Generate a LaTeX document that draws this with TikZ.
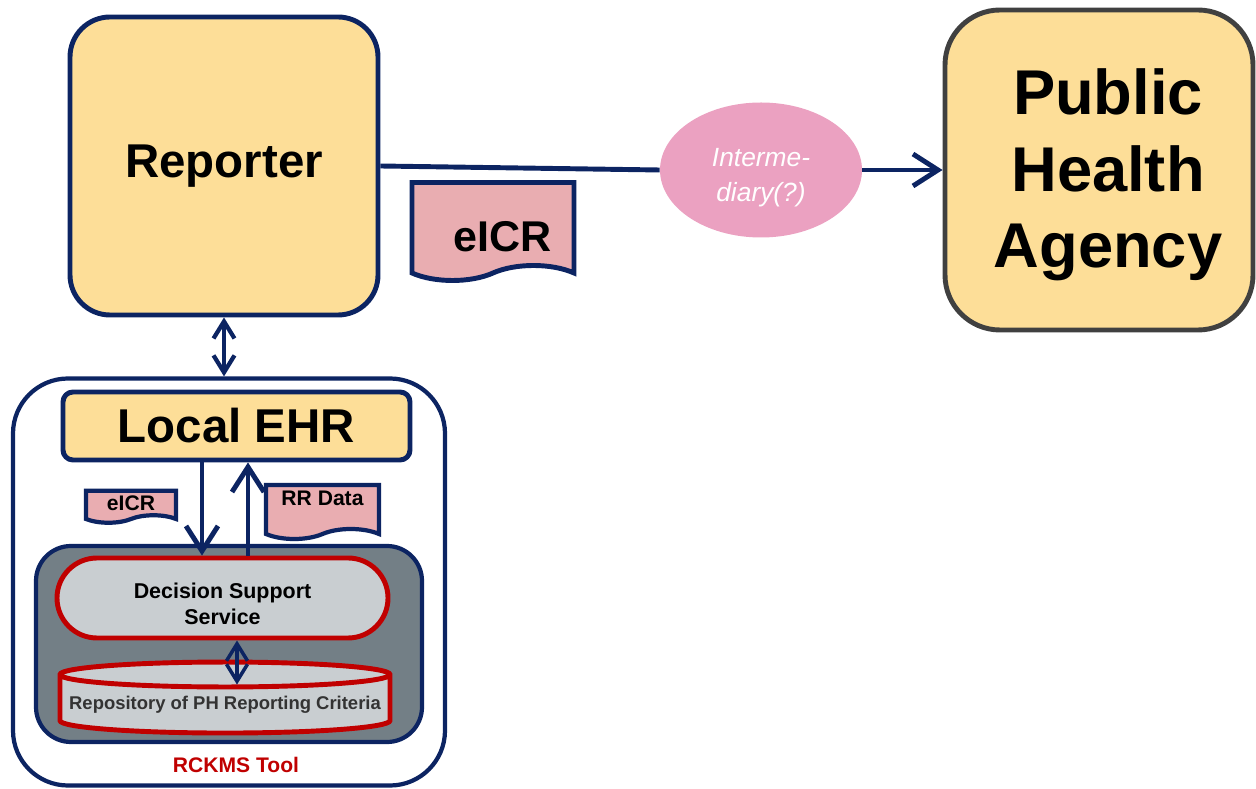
\documentclass[tikz,border=0pt]{standalone}
\usepackage{fontspec}
\setmainfont{Liberation Sans}
\usetikzlibrary{positioning,arrows.meta,shapes.geometric,shapes.symbols}
\definecolor{navy}{HTML}{0C2462}
\definecolor{ylw}{HTML}{FDDE98}
\definecolor{dkgray}{HTML}{404040}
\definecolor{interpink}{HTML}{EBA1C1}
\definecolor{docpink}{HTML}{E9ADB1}
\definecolor{slate}{HTML}{737F86}
\definecolor{pale}{HTML}{C9CED1}
\definecolor{rckred}{HTML}{C00000}

\begin{document}
\begin{tikzpicture}[
    font=\bfseries,
    actor/.style={draw=navy, line width=2.8pt, fill=ylw, rounded corners=0.8cm,
                  align=center, inner sep=0pt},
    doc/.style={tape, tape bend top=none, tape bend bottom=in and out,
                draw=navy, line width=2.8pt, fill=docpink, inner sep=0pt},
    ar/.style={-{Straight Barb[length=5mm,width=6.4mm]}, line width=2.8pt, navy},
    dbl/.style={{Straight Barb[length=3.4mm,width=4.2mm]}-{Straight Barb[length=3.4mm,width=4.2mm]},
                line width=2.4pt, navy},
]
\useasboundingbox (0,0) rectangle (25.12,15.76);
% --- reporter, intermediary, agency ---
\node[actor, minimum width=6.16cm, minimum height=5.96cm,
      font=\fontsize{27}{32}\selectfont\bfseries] (rep) at (4.48,12.44) {Reporter};
\node[actor, draw=dkgray, line width=2.8pt, rounded corners=1.1cm,
      minimum width=6.16cm, minimum height=6.4cm] (pha) at (21.98,12.36) {};
\node[align=center, font=\fontsize{36}{43.4}\selectfont\bfseries] (phat)
      at ([xshift=0.18cm,yshift=-0.1cm]pha.center) {Public\\Health\\Agency};
\node[ellipse, fill=interpink, minimum width=4.04cm, minimum height=2.7cm,
      inner sep=0pt] (inter) at (15.22,12.36) {};
\node[align=center, text=white, font=\fontsize{15}{20}\selectfont\itshape] (intert)
      at ([yshift=-0.16cm]inter.center) {Interme-\\diary(?)};
\node[doc, tape bend height=0.3cm, minimum width=3.24cm, minimum height=1.96cm,
      text height=1.1cm, font=\fontsize{24.5}{29}\selectfont\bfseries] (ecr) at (9.86,11.28)
      {\hspace*{0.4cm}eICR};
\draw[line width=2.8pt, navy] (rep.east) -- (inter.west);
\draw[ar] (inter.east) -- (pha.west);
% --- RCKMS tool ---
\node[draw=navy, line width=2.4pt, fill=white, rounded corners=1.1cm,
      minimum width=8.64cm, minimum height=8.14cm] (tool) at (4.58,4.12) {};
\draw[dbl] (rep.south) -- (rep.south |- tool.north);
\node[actor, rounded corners=0.2cm, minimum width=6.94cm, minimum height=1.36cm,
      font=\fontsize{27}{32}\selectfont\bfseries] (ehr) at (4.73,7.24) {Local EHR};
\node[doc, tape bend height=0.15cm, line width=2.4pt, minimum width=1.8cm, minimum height=0.64cm,
      font=\fontsize{12}{14}\selectfont\bfseries] (ecrs) at (2.62,5.7) {eICR};
\node[doc, tape bend height=0.2cm, line width=2.4pt, minimum width=2.26cm, minimum height=1.08cm,
      text depth=0.35cm, font=\fontsize{12}{14}\selectfont\bfseries] (rrd) at (6.45,5.62) {RR Data};
\node[draw=navy, line width=2.4pt, fill=slate, rounded corners=0.7cm,
      minimum width=7.72cm, minimum height=3.92cm] (cds) at (4.58,2.88) {};
\node[draw=rckred, line width=2.8pt, fill=pale, rounded corners=0.8cm,
      minimum width=6.62cm, minimum height=1.6cm, align=center,
      font=\fontsize{12.2}{14.5}\selectfont\bfseries] (dss) at (4.45,3.8)
      {\rule{0pt}{0.55cm}Decision Support\\Service};
\node[cylinder, shape border rotate=90, aspect=0.08, draw=rckred, line width=2.8pt,
      fill=pale, minimum width=6.6cm, minimum height=1.42cm, inner sep=0pt,
      text=black!80, font=\fontsize{10.5}{12}\selectfont\bfseries] (repo) at (4.5,1.66)
      {Repository of PH Reporting Criteria};
\draw[ar] ([xshift=-0.69cm]ehr.south) -- ([xshift=-0.69cm]ehr.south |- dss.north);
\draw[ar] ([xshift=0.23cm]ehr.south |- dss.north) -- ([xshift=0.23cm]ehr.south);
\draw[dbl, line width=2pt] ([xshift=0.29cm]dss.south) -- ([xshift=0.29cm,yshift=-0.5cm]dss.south |- repo.north);
\node[text=rckred, font=\fontsize{12}{14}\selectfont\bfseries] (lbl) at (4.72,0.46) {RCKMS Tool};
\end{tikzpicture}
\end{document}
